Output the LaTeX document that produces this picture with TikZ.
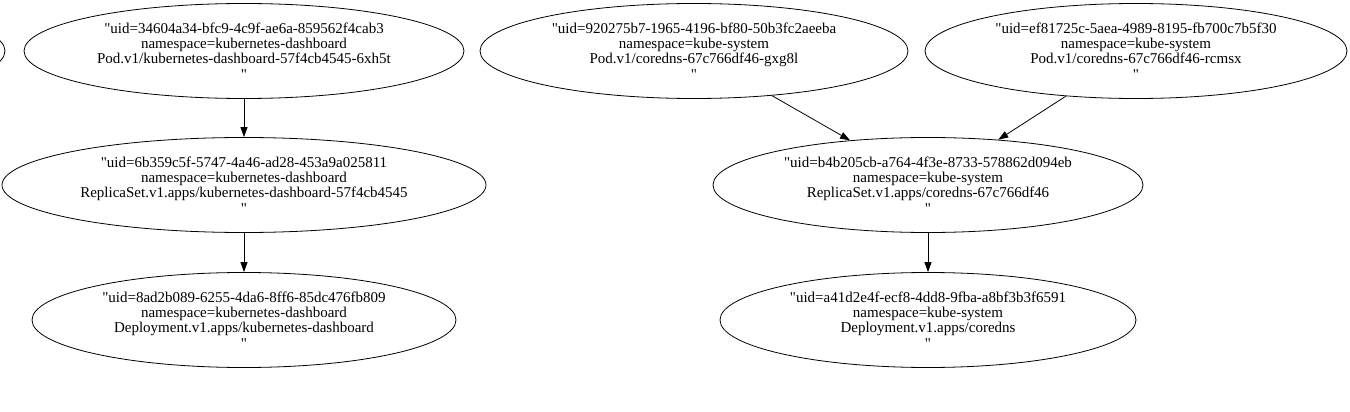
\documentclass[tikz,border=0pt]{standalone}
\usepackage{fontspec}
\setmainfont{Liberation Serif}[Ligatures=TeXOff]
\usetikzlibrary{shapes.geometric,arrows.meta}
\begin{document}
\begin{tikzpicture}[x=1pt,y=-1pt,
  obj/.style={draw, ellipse, line width=0.8pt, inner sep=0pt, minimum height=95pt},
  txt/.style={font=\fontsize{15}{15.4}\selectfont, align=center, inner sep=0pt},
  edge/.style={draw, line width=0.8pt, -{Triangle[length=10pt,width=7pt]}}]
\useasboundingbox (0,0) rectangle (1350,412);
\clip (0,0) rectangle (1350,412);
% partial ellipse at the left edge
\node[obj, minimum width=430pt] (px) at (-210,51) {};
\node[obj, minimum width=440pt, label={[txt]center:{"uid=34604a34-bfc9-4c9f-ae6a-859562f4cab3\\namespace=kubernetes-dashboard\\Pod.v1/kubernetes-dashboard-57f4cb4545-6xh5t\\"}}] (pa) at (244,51) {};
\node[obj, minimum width=484pt, label={[txt]center:{"uid=6b359c5f-5747-4a46-ad28-453a9a025811\\namespace=kubernetes-dashboard\\ReplicaSet.v1.apps/kubernetes-dashboard-57f4cb4545\\"}}] (ra) at (244,185) {};
\node[obj, minimum width=424pt, label={[txt]center:{"uid=8ad2b089-6255-4da6-8ff6-85dc476fb809\\namespace=kubernetes-dashboard\\Deployment.v1.apps/kubernetes-dashboard\\"}}] (da) at (244,320) {};
\node[obj, minimum width=428pt, label={[txt]center:{"uid=920275b7-1965-4196-bf80-50b3fc2aeeba\\namespace=kube-system\\Pod.v1/coredns-67c766df46-gxg8l\\"}}] (pb) at (694,51) {};
\node[obj, minimum width=422pt, label={[txt]center:{"uid=ef81725c-5aea-4989-8195-fb700c7b5f30\\namespace=kube-system\\Pod.v1/coredns-67c766df46-rcmsx\\"}}] (pc) at (1136,51) {};
\node[obj, minimum width=430pt, label={[txt]center:{"uid=b4b205cb-a764-4f3e-8733-578862d094eb\\namespace=kube-system\\ReplicaSet.v1.apps/coredns-67c766df46\\"}}] (rb) at (928,185) {};
\node[obj, minimum width=416pt, label={[txt]center:{"uid=a41d2e4f-ecf8-4dd8-9fba-a8bf3b3f6591\\namespace=kube-system\\Deployment.v1.apps/coredns\\"}}] (db) at (928,320) {};
\draw[edge] (pa) -- (ra);
\draw[edge] (ra) -- (da);
\draw[edge] (pb) -- (rb);
\draw[edge] (pc) -- (rb);
\draw[edge] (rb) -- (db);
\end{tikzpicture}
\end{document}
